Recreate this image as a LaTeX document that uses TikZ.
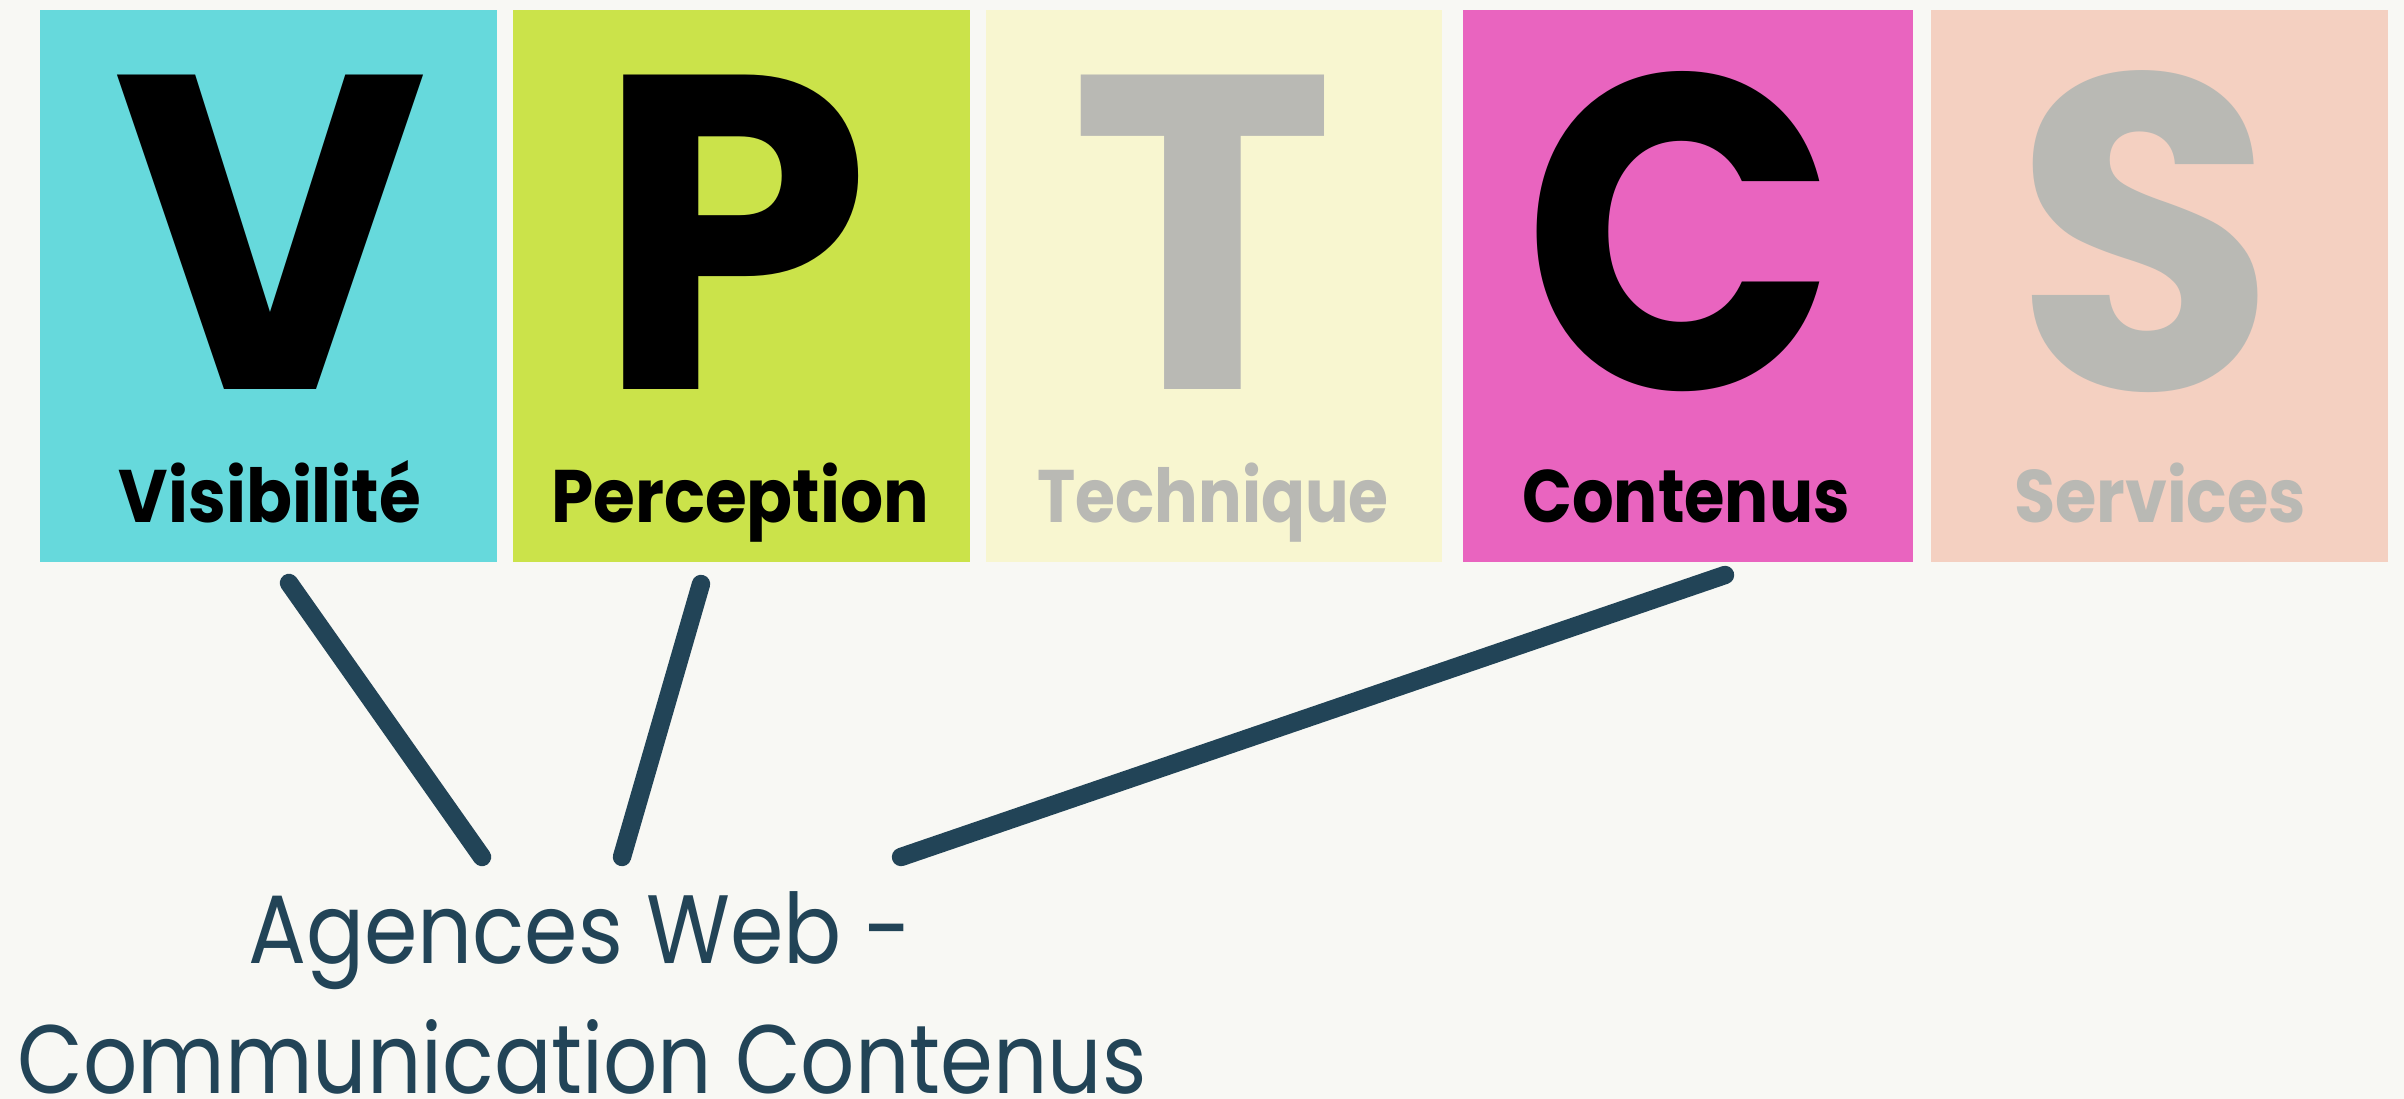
\documentclass[tikz,border=0pt]{standalone}
\usepackage{fontspec}
\setmainfont{Poppins}[Ligatures=NoCommon]
\definecolor{bgc}{HTML}{F8F8F4}
\definecolor{cV}{HTML}{66D9DC}
\definecolor{cP}{HTML}{CBE34A}
\definecolor{cT}{HTML}{F8F6D0}
\definecolor{cC}{HTML}{E964BF}
\definecolor{cS}{HTML}{F4D0C1}
\definecolor{grayL}{HTML}{B9B9B4}
\definecolor{navy}{HTML}{224457}
\newcommand{\hsq}[2]{\scalebox{#1}[1]{#2}}
\begin{document}
\begin{tikzpicture}[x=0.25pt,y=-0.25pt,
  box/.style={rectangle,inner sep=0pt,minimum height=138pt},
  bigletter/.style={inner sep=0pt,anchor=base,text depth=0pt,font=\bfseries\fontsize{112}{120}\selectfont},
  lbl/.style={inner sep=0pt,anchor=base,font=\bfseries\fontsize{18.6}{22}\selectfont},
  conn/.style={draw=navy,line width=4.6pt,line cap=round},
  bottomtxt/.style={inner sep=0pt,anchor=base,text depth=0pt,text=navy,font=\fontsize{24.3}{30}\selectfont}]
\useasboundingbox (0,0) rectangle (2404,1099);
\fill[bgc] (0,0) rectangle (2404,1099);
% boxes
\node[box,fill=cV,minimum width=114.25pt] (boxV) at (268.5,286) {};
\node[box,fill=cP,minimum width=114.25pt] (boxP) at (741.5,286) {};
\node[box,fill=cT,minimum width=114pt] (boxT) at (1214,286) {};
\node[box,fill=cC,minimum width=112.5pt] (boxC) at (1688,286) {};
\node[box,fill=cS,minimum width=114.25pt] (boxS) at (2159.5,286) {};
% big letters
\node[bigletter,text=black] (bV) at (270,390) {\hsq{0.96}{V}};
\node[bigletter,text=black] (bP) at (733,390) {\hsq{0.98}{P}};
\node[bigletter,text=grayL] (bT) at (1203,390) {T};
\node[bigletter,text=black] (bC) at (1681,390) {\hsq{0.92}{C}};
\node[bigletter,text=grayL] (bS) at (2145,390) {\hsq{0.95}{S}};
% labels
\node[lbl,text=black] (lV) at (270,523) {\hsq{0.91}{Visibilité}};
\node[lbl,text=black] (lP) at (740,523) {\hsq{0.91}{Perception}};
\node[lbl,text=grayL] (lT) at (1213,523) {\hsq{0.87}{Technique}};
\node[lbl,text=black] (lC) at (1686,523) {\hsq{0.88}{Contenus}};
\node[lbl,text=grayL] (lS) at (2160,523) {\hsq{0.90}{Services}};
% bottom text
\node[bottomtxt] (agences) at (580,963) {\hsq{0.885}{Agences Web -}};
\node[bottomtxt] (comm) at (582,1093) {\hsq{0.875}{Communication Contenus}};
% connector ends
\coordinate (sV) at (289,583);
\coordinate (sP) at (701,584);
\coordinate (sC) at (1725,575);
\coordinate (eV) at (482,857);
\coordinate (eP) at (622,857);
\coordinate (eC) at (901,857);
\draw[conn] (sV) -- (eV);
\draw[conn] (sP) -- (eP);
\draw[conn] (sC) -- (eC);
\end{tikzpicture}
\end{document}
